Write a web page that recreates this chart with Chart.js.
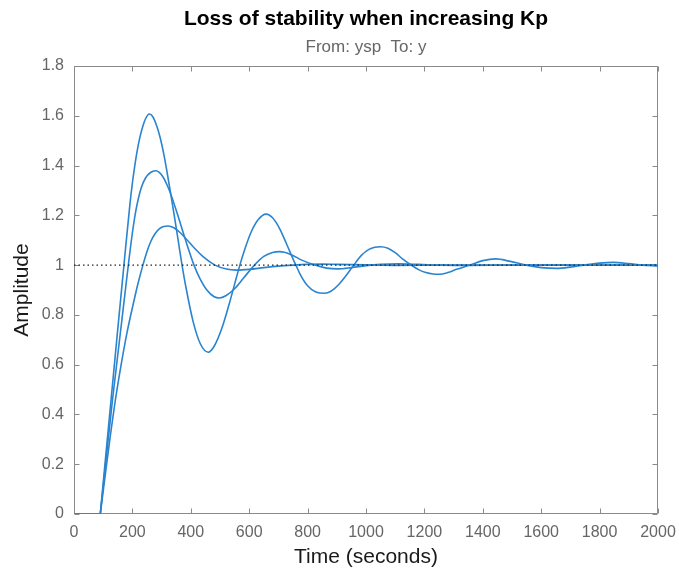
<!DOCTYPE html>
<html>
<head>
<meta charset="utf-8">
<script src="https://cdn.jsdelivr.net/npm/chart.js@4/dist/chart.umd.min.js"></script>
<style>
html,body{margin:0;padding:0;background:#ffffff;}
#wrap{width:679px;height:570px;}
</style>
</head>
<body>
<div id="wrap"><canvas id="c" width="679" height="570"></canvas></div>
<script>
// ---- data ----
const xTickValues = [0, 200, 400, 600, 800, 1000, 1200, 1400, 1600, 1800, 2000];
const yTickValues = [0, 0.2, 0.4, 0.6, 0.8, 1, 1.2, 1.4, 1.6, 1.8];

// dead time segment (all three responses are zero here)
const tDead = [0, 90];
const yDead = [0, 0];

// reference level
const tRef = [0, 2000];
const yRef = [1, 1];

// highest gain (most oscillatory)
const tA = [90, 110, 127, 148, 171, 192, 200, 207, 215, 225, 235, 245, 258, 270, 283, 295, 308, 320, 333, 346, 358, 370,
            383, 408, 433, 460, 481, 506, 531, 556, 568, 581, 606, 631, 658, 680, 705, 728, 750, 760, 775, 800, 828, 858,
            880, 905, 930, 958, 985, 1010, 1030, 1050, 1075, 1100, 1125, 1155, 1180, 1205, 1230, 1252,
            1280, 1310, 1355, 1400, 1445, 1490, 1548, 1600, 1653, 1700, 1745, 1800, 1847, 1900, 1945, 2000];
const yA = [0, 0.25, 0.46, 0.72, 1.0, 1.25, 1.33, 1.39, 1.45, 1.51, 1.555, 1.588, 1.607, 1.596, 1.56, 1.513, 1.443, 1.365, 1.274, 1.18, 1.09, 1.0,
            0.913, 0.773, 0.683, 0.65, 0.676, 0.745, 0.842, 0.949, 1.0, 1.05, 1.131, 1.183, 1.205, 1.19, 1.145, 1.085, 1.025, 1.0, 0.962, 0.917, 0.892, 0.887,
            0.895, 0.92, 0.955, 1.0, 1.04, 1.063, 1.072, 1.074, 1.068, 1.05, 1.025, 1.0, 0.982, 0.97, 0.964, 0.963,
            0.97, 0.983, 1.0, 1.018, 1.025, 1.016, 1.0, 0.99, 0.987, 0.992, 1.0, 1.008, 1.011, 1.006, 1.0, 0.996];

// middle gain
const tB = [90, 110, 131, 156, 172, 186, 200, 212, 230, 245, 262, 280, 292, 305, 318, 330, 355, 380, 411, 430, 455, 480, 498,
            520, 550, 580, 618, 650, 680, 705, 740, 780, 825, 865, 905, 950, 1000, 1050, 1110, 1180, 1260, 1350, 1500, 1700, 2000];
const yB = [0, 0.22, 0.45, 0.7, 0.86, 1.0, 1.13, 1.22, 1.31, 1.35, 1.372, 1.379, 1.373, 1.354, 1.324, 1.29, 1.202, 1.108, 1.0, 0.949, 0.9, 0.873, 0.868,
            0.877, 0.905, 0.947, 1.0, 1.035, 1.051, 1.054, 1.044, 1.02, 1.0, 0.988, 0.985, 0.99, 0.998, 1.003, 1.005, 1.003, 1.0, 0.999, 1.0, 1.0, 1.0];

// lowest gain
const tC = [90, 110, 125, 140, 160, 180, 206, 220, 236, 250, 263, 278, 292, 307, 322, 342, 363, 382, 412, 442, 483, 522, 557,
            600, 650, 700, 750, 800, 850, 900, 1000, 1100, 1250, 1500, 2000];
const yC = [0, 0.184, 0.32, 0.445, 0.59, 0.72, 0.86, 0.93, 1.0, 1.055, 1.095, 1.127, 1.146, 1.155, 1.157, 1.15, 1.131, 1.108, 1.069, 1.034, 1.0, 0.984, 0.98,
            0.983, 0.99, 0.996, 1.0, 1.003, 1.004, 1.003, 1.001, 0.999, 1.0, 1.0, 1.0];

const titleText = 'Loss of stability when increasing Kp';
const subtitleText = 'From: ysp  To: y';
const xLabel = 'Time (seconds)';
const yLabel = 'Amplitude';

// ---- build ----
const pts = (ts, vs) => ts.map((t, i) => ({x: t, y: vs[i]}));
const lineBlue = '#2a84cf';
const FONT = '"Liberation Sans", Arial, Helvetica, sans-serif';

const boxPlugin = {
  id: 'matlabBox',
  beforeDatasetsDraw(chart) {
    const {ctx, chartArea, scales} = chart;
    const {left, right, top, bottom} = chartArea;
    ctx.save();
    ctx.strokeStyle = '#8a8a8a';
    ctx.lineWidth = 1;
    const L = Math.round(left) + 0.5, R = Math.round(right) - 0.5;
    const T = Math.round(top) + 0.5, B = Math.round(bottom) - 0.5;
    ctx.beginPath();
    ctx.rect(L, T, R - L, B - T);
    const tl = 5;
    xTickValues.forEach(v => {
      const px = Math.round(scales.x.getPixelForValue(v)) + 0.5;
      ctx.moveTo(px, B); ctx.lineTo(px, B - tl);
      ctx.moveTo(px, T); ctx.lineTo(px, T + tl);
    });
    yTickValues.forEach(v => {
      const py = Math.round(scales.y.getPixelForValue(v)) + 0.5;
      ctx.moveTo(L, py); ctx.lineTo(L + tl, py);
      ctx.moveTo(R, py); ctx.lineTo(R - tl, py);
    });
    ctx.stroke();
    ctx.restore();
  }
};

const common = {borderColor: lineBlue, borderWidth: 1.6, pointRadius: 0, fill: false,
                cubicInterpolationMode: 'monotone'};

new Chart(document.getElementById('c'), {
  type: 'line',
  data: {
    datasets: [
      {label: 'ref', data: pts(tRef, yRef), borderColor: '#222222', borderWidth: 1.1,
       borderDash: [1.5, 3], pointRadius: 0, tension: 0, fill: false},
      Object.assign({label: 'dead', data: pts(tDead, yDead), tension: 0}, common, {cubicInterpolationMode: 'default'}),
      Object.assign({label: 'Kp3', data: pts(tA, yA)}, common),
      Object.assign({label: 'Kp2', data: pts(tB, yB)}, common),
      Object.assign({label: 'Kp1', data: pts(tC, yC)}, common)
    ]
  },
  options: {
    responsive: false,
    animation: false,
    devicePixelRatio: 1,
    layout: {padding: {left: 0, right: 21, top: 0, bottom: 0}},
    plugins: {
      legend: {display: false},
      tooltip: {enabled: false},
      title: {display: true, fullSize: false, text: titleText, color: '#000000',
              font: {family: FONT, size: 21, weight: 'bold'}, padding: {top: 7, bottom: 2}},
      subtitle: {display: true, fullSize: false, text: subtitleText, color: '#666666',
                 font: {family: FONT, size: 17}, padding: {top: 2.6, bottom: 8.8}}
    },
    scales: {
      x: {
        type: 'linear', min: 0, max: 2000,
        afterBuildTicks: s => { s.ticks = xTickValues.map(v => ({value: v})); },
        afterFit: s => { s.height = 56; s.paddingLeft = 0; s.paddingRight = 0; },
        grid: {display: false, drawTicks: false},
        border: {display: false},
        ticks: {color: '#666666', font: {family: FONT, size: 16}, padding: 9.4, maxRotation: 0,
                autoSkip: false, callback: v => String(v)},
        title: {display: true, text: xLabel, color: '#1a1a1a', font: {family: FONT, size: 21},
                padding: {top: 0, bottom: 0.4}}
      },
      y: {
        type: 'linear', min: 0, max: 1.8,
        afterBuildTicks: s => { s.ticks = yTickValues.map(v => ({value: v})); },
        afterFit: s => { s.width = 74; s.paddingTop = 0; s.paddingBottom = 0; },
        grid: {display: false, drawTicks: false},
        border: {display: false},
        ticks: {color: '#666666', font: {family: FONT, size: 16}, padding: 10, autoSkip: false,
                callback: v => String(+Number(v).toFixed(1))},
        title: {display: true, text: yLabel, color: '#1a1a1a', font: {family: FONT, size: 21},
                padding: {top: 9.4, bottom: 0}}
      }
    }
  },
  plugins: [boxPlugin]
});
</script>
</body>
</html>
